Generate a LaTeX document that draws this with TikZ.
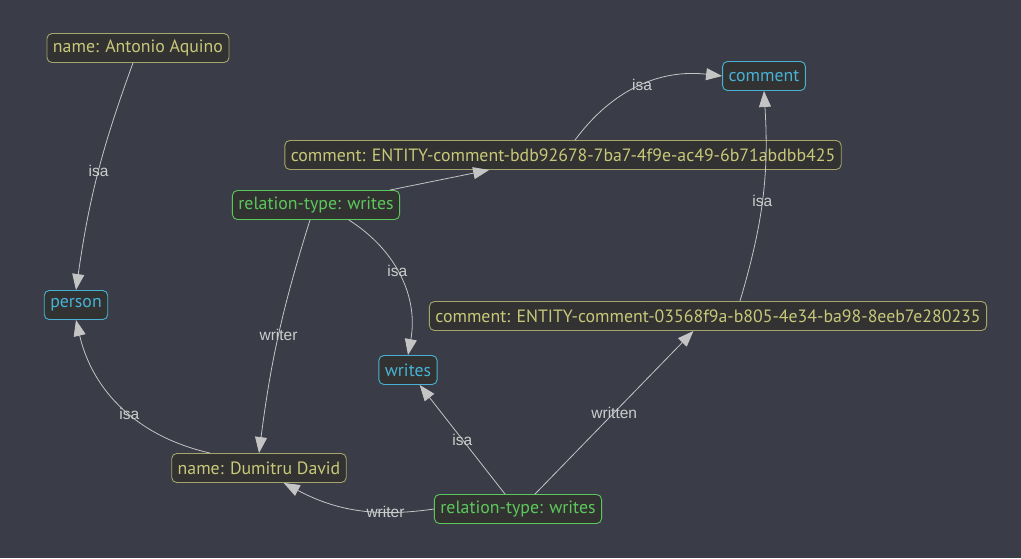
\documentclass[tikz,border=0pt]{standalone}
\usepackage{fontspec}
\setmainfont{PT Sans}
\newfontfamily\edgefont{Liberation Sans}
\usetikzlibrary{arrows.meta}
\definecolor{bgc}{RGB}{58,61,71}
\definecolor{nodefill}{RGB}{50,50,50}
\definecolor{oliveline}{RGB}{165,165,108}
\definecolor{olivetext}{RGB}{200,200,122}
\definecolor{typeblue}{RGB}{72,178,214}
\definecolor{relgreen}{RGB}{92,200,92}
\definecolor{edgegray}{RGB}{196,196,196}

\begin{document}
\begin{tikzpicture}[x=1pt, y=-1pt, font=\fontsize{17.8}{20}\selectfont,
  box/.style={draw=oliveline, text=olivetext, fill=nodefill, rounded corners=5pt, line width=0.9pt, minimum height=29pt, inner xsep=6pt},
  typebox/.style={box, draw=typeblue, text=typeblue},
  relbox/.style={box, draw=relgreen, text=relgreen},
  arr/.style={-{Triangle[length=16pt, width=12pt, fill=edgegray]}, draw=edgegray, line width=0.8pt},
  lbl/.style={text=edgegray!85!white, font=\edgefont\fontsize{15.5}{17}\selectfont, inner sep=0pt}]
\fill[bgc] (0,0) rectangle (1021,558);
\useasboundingbox (0,0) rectangle (1021,558);
\node[box] (aquino) at (138,48) {name: Antonio Aquino};
\node[typebox] (comment) at (764,76) {comment};
\node[box] (cmtone) at (563,155) {comment: ENTITY-comment-bdb92678-7ba7-4f9e-ac49-6b71abdbb425};
\node[relbox] (relone) at (316,205) {relation-type: writes};
\node[typebox] (person) at (76,305) {person};
\node[box] (cmttwo) at (708,316) {comment: ENTITY-comment-03568f9a-b805-4e34-ba98-8eeb7e280235};
\node[typebox] (writes) at (408,370) {writes};
\node[box] (david) at (259,468) {name: Dumitru David};
\node[relbox] (reltwo) at (518,509) {relation-type: writes};
% isa edges
\draw[arr] (aquino.south) ++(-5,0) to[bend right=6] node[lbl, pos=.48] {isa} (person.north);
\draw[arr] (cmtone.north) ++(12,0) to[bend left=30] node[lbl, pos=.52] {isa} (comment.west);
\draw[arr] (cmttwo.north) ++(32,0) to[bend right=10] node[lbl, pos=.48] {isa} (comment.south);
\draw[arr] (relone) to[bend left=34] node[lbl, pos=.45] {isa} (writes.north);
\draw[arr] (david.north) ++(-49,0) to[bend left=32] node[lbl, pos=.45] {isa} (person.south);
\draw[arr] (reltwo.north) ++(-13,0) -- node[lbl] {isa} (writes);
% roles
\draw[arr] (relone) -- (cmtone);
\draw[arr] (relone.south) ++(-6,0) to[bend right=5] node[lbl] {writer} (david.north);
\draw[arr] (reltwo.north) ++(17,0) -- node[lbl] {written} (cmttwo);
\draw[arr] (reltwo.west) to[bend left=18] node[lbl, pos=.3] {writer} (david);
\end{tikzpicture}
\end{document}
